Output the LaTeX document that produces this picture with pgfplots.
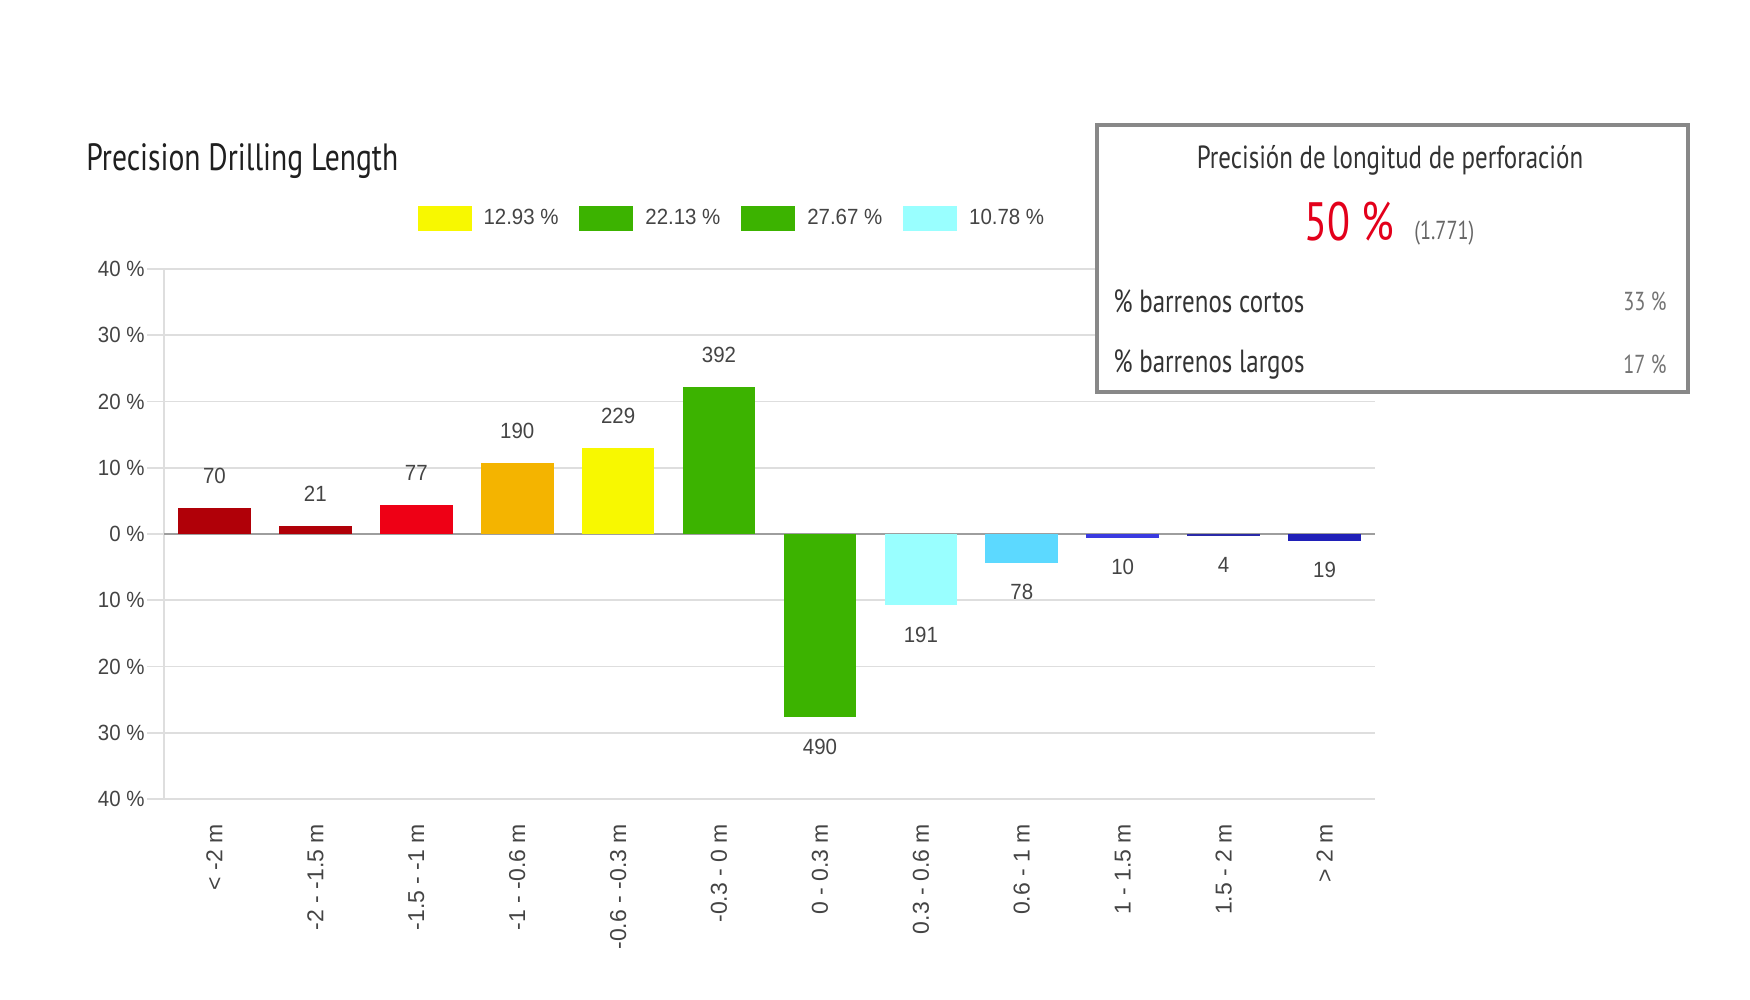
\documentclass[border=0pt]{standalone}
\usepackage{pgfplots}
\pgfplotsset{compat=1.18}
\usepackage{fontspec}
\setmainfont{Liberation Sans}
\newfontfamily\hfont[FakeStretch=0.78]{PT Sans}
\newfontfamily\nfont[FakeStretch=0.93]{Liberation Sans}
\definecolor{darkred}{HTML}{B00008}
\definecolor{cred}{HTML}{EE0015}
\definecolor{corange}{HTML}{F4B400}
\definecolor{cyellow}{HTML}{F8F800}
\definecolor{cgreen}{HTML}{3CB300}
\definecolor{ccyan}{HTML}{99FFFF}
\definecolor{csky}{HTML}{5CD9FF}
\definecolor{cblue1}{HTML}{3A3AE0}
\definecolor{cblue2}{HTML}{2A2AA8}
\definecolor{cblue3}{HTML}{2020B8}
\definecolor{txt}{HTML}{444444}
\definecolor{cbox}{HTML}{888888}
\definecolor{bigred}{HTML}{E3001B}
\begin{document}
\begin{tikzpicture}
\useasboundingbox (0,0) rectangle (875pt,500pt);
\node[anchor=west, inner sep=0pt, font=\hfont\fontsize{19}{22}\selectfont, text=black!88] at (43pt,419.3pt) {Precision Drilling Length};
\begin{axis}[
  at={(82pt,100.5pt)}, anchor=south west,
  scale only axis, width=605.5pt, height=265pt,
  xmin=-0.5, xmax=11.5, ymin=-40, ymax=40,
  axis lines*=left,
  x axis line style={draw=none},
  y axis line style={draw=black!13, line width=0.8pt, -},
  ytick={-40,-30,-20,-10,0,10,20,30,40},
  yticklabels={40 \%,30 \%,20 \%,10 \%,0 \%,10 \%,20 \%,30 \%,40 \%},
  xtick={0,...,11},
  xticklabels={< -2 m,-2 - -1.5 m,-1.5 - -1 m,-1 - -0.6 m,-0.6 - -0.3 m,-0.3 - 0 m,0 - 0.3 m,0.3 - 0.6 m,0.6 - 1 m,1 - 1.5 m,1.5 - 2 m,> 2 m},
  /pgf/number format/assume math mode=true,
  tick align=outside, major tick length=8.5pt,
  xtick style={draw=none},
  ytick style={draw=black!13, line width=0.8pt},
  ymajorgrids, grid style={black!13, line width=0.8pt},
  yticklabel style={font=\nfont\fontsize{11}{13}\selectfont, text=txt, inner sep=1pt},
  xticklabel style={font=\fontsize{11.5}{13}\selectfont, text=txt, rotate=90, anchor=east, inner sep=0pt, xshift=-3.9pt},
  legend columns=4,
  legend style={at={(0.209,1.096)}, anchor=west, draw=none, fill=none, inner sep=0pt,
    font=\nfont\fontsize{11}{13}\selectfont, text=txt,
    /tikz/every odd column/.append style={column sep=4pt},
    /tikz/every even column/.append style={column sep=8.4pt}},
  legend image code/.code={\fill[#1, draw=none] (0pt,-6.25pt) rectangle (27pt,6.25pt);},
  bar/.style={ybar, bar width=0.72, bar shift=0pt, draw=none, nodes near coords, point meta=explicit symbolic, forget plot,
    every node near coord/.append style={font=\nfont\fontsize{11}{13}\selectfont, text=txt}},
  pos/.style={every node near coord/.append style={anchor=south, inner sep=12pt}},
  neg/.style={every node near coord/.append style={anchor=north, inner sep=10.5pt}},
]
\draw[black!38, line width=0.8pt] ([xshift=-8.5pt]axis cs:-0.5,0) -- (axis cs:11.5,0);
\addplot[bar, pos, fill=darkred] coordinates {(0,3.9526)[70]};
\addplot[bar, pos, fill=darkred] coordinates {(1,1.1858)[21]};
\addplot[bar, pos, fill=cred] coordinates {(2,4.3478)[77]};
\addplot[bar, pos, fill=corange] coordinates {(3,10.7284)[190]};
\addplot[bar, pos, fill=cyellow] coordinates {(4,12.9306)[229]};
\addplot[bar, pos, fill=cgreen] coordinates {(5,22.1344)[392]};
\addplot[bar, neg, fill=cgreen] coordinates {(6,-27.6680)[490]};
\addplot[bar, neg, fill=ccyan] coordinates {(7,-10.7849)[191]};
\addplot[bar, neg, fill=csky] coordinates {(8,-4.4043)[78]};
\addplot[bar, neg, fill=cblue1] coordinates {(9,-0.5647)[10]};
\addplot[bar, neg, fill=cblue2] coordinates {(10,-0.2259)[4]};
\addplot[bar, neg, fill=cblue3] coordinates {(11,-1.0728)[19]};
\addlegendimage{fill=cyellow}\addlegendentry{12.93 \%}
\addlegendimage{fill=cgreen}\addlegendentry{22.13 \%}
\addlegendimage{fill=cgreen}\addlegendentry{27.67 \%}
\addlegendimage{fill=ccyan}\addlegendentry{10.78 \%}
\end{axis}
\draw[draw=cbox, line width=1.6pt, fill=white] (548.5pt,437.5pt) rectangle (844pt,304pt);
\node[inner sep=0pt, font=\hfont\fontsize{16}{19}\selectfont, text=black!80] at (695pt,420pt) {Precisión de longitud de perforación};
\node[anchor=base west, inner sep=0pt, font=\hfont\fontsize{27}{30}\selectfont, text=bigred] at (652pt,379.5pt) {50 \%};
\node[anchor=base west, inner sep=0pt, font=\hfont\fontsize{13}{15}\selectfont, text=black!60] at (707pt,380pt) {(1.771)};
\node[anchor=west, inner sep=0pt, font=\hfont\fontsize{16}{19}\selectfont, text=black!80] at (556.5pt,349.5pt) {\% barrenos cortos};
\node[anchor=east, inner sep=0pt, font=\hfont\fontsize{13}{15}\selectfont, text=black!55] at (833.5pt,349.5pt) {33 \%};
\node[anchor=west, inner sep=0pt, font=\hfont\fontsize{16}{19}\selectfont, text=black!80] at (556.5pt,318pt) {\% barrenos largos};
\node[anchor=east, inner sep=0pt, font=\hfont\fontsize{13}{15}\selectfont, text=black!55] at (833.5pt,318pt) {17 \%};
\end{tikzpicture}
\end{document}
